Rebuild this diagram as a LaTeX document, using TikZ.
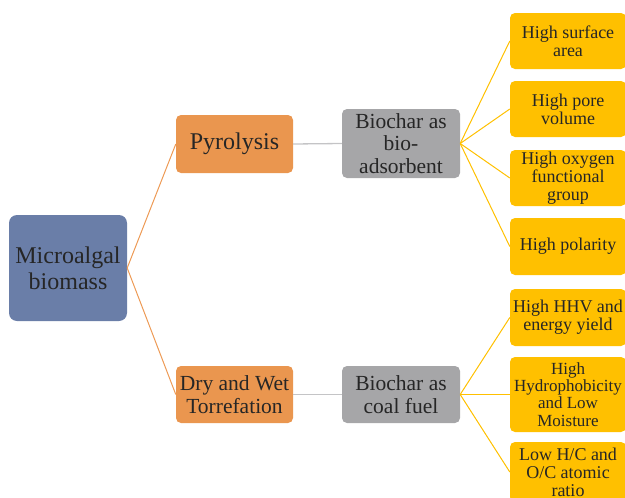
\documentclass[tikz,border=0pt]{standalone}
\usepackage{fontspec}
\setmainfont{Liberation Serif}
\definecolor{bluebox}{HTML}{6A7EA8}
\definecolor{orangebox}{HTML}{EA964F}
\definecolor{graybox}{HTML}{A6A6A8}
\definecolor{yellowbox}{HTML}{FFC000}
\definecolor{orangeline}{HTML}{ED9A55}
\definecolor{grayline}{HTML}{C4C4C6}
\definecolor{txt}{HTML}{262626}
\begin{document}
\begin{tikzpicture}[x=1pt,y=-1pt,
  box/.style={rounded corners=5pt, inner sep=0pt, align=center, text=txt},
  bigtxt/.style={font=\fontsize{24}{26}\selectfont},
  midtxt/.style={font=\fontsize{21.5}{22.5}\selectfont},
  smalltxt/.style={font=\fontsize{18}{18}\selectfont},
  oline/.style={draw=orangeline, line width=1pt},
  gline/.style={draw=grayline, line width=1.3pt},
  yline/.style={draw=yellowbox, line width=1pt}]
\useasboundingbox (0,0) rectangle (625,498);
\begin{scope}
\clip (0,0) rectangle (625,498);
% root
\node[box, rounded corners=8pt, fill=bluebox, minimum width=118pt, minimum height=106pt, bigtxt] (root) at (68,268) {Microalgal\\biomass};
% level 1
\node[box, fill=orangebox, minimum width=117pt, minimum height=58pt, font=\fontsize{24}{26}\selectfont] (pyro) at (234.5,144) {Pyrolysis};
\node[box, fill=orangebox, minimum width=117pt, minimum height=57pt, midtxt] (torr) at (234.5,394.5) {Dry and Wet\\Torrefation};
% level 2
\node[box, fill=graybox, minimum width=118pt, minimum height=69pt, midtxt] (bio) at (401,143.5) {Biochar as\\bio-\\adsorbent};
\node[box, fill=graybox, minimum width=118pt, minimum height=57pt, midtxt] (coal) at (401,394.5) {Biochar as\\coal fuel};
% level 3
\node[box, fill=yellowbox, minimum width=116pt, minimum height=56pt, smalltxt] (y1) at (568,41) {High surface\\area};
\node[box, fill=yellowbox, minimum width=116pt, minimum height=56pt, smalltxt] (y2) at (568,109) {High pore\\volume};
\node[box, fill=yellowbox, minimum width=116pt, minimum height=56pt, smalltxt] (y3) at (568,178) {High oxygen\\functional\\group};
\node[box, fill=yellowbox, minimum width=116pt, minimum height=57pt, smalltxt] (y4) at (568,246.5) {High polarity};
\node[box, fill=yellowbox, minimum width=116pt, minimum height=57pt, smalltxt] (y5) at (568,317.5) {High HHV and\\energy yield};
\node[box, fill=yellowbox, minimum width=116pt, minimum height=75pt, font=\fontsize{17}{17.3}\selectfont] (y6) at (568,394.5) {High\\Hydrophobicity\\and Low\\Moisture};
\node[box, fill=yellowbox, minimum width=116pt, minimum height=60pt, smalltxt] (y7) at (568,472) {Low H/C and\\O/C atomic\\ratio};
% connectors
\draw[oline] (root.east) -- (pyro.west);
\draw[oline] (root.east) -- (torr.west);
\draw[gline] (pyro.east) -- (bio.west);
\draw[gline] (torr.east) -- (coal.west);
\foreach \t in {y1,y2,y3,y4} \draw[yline] (bio.east) -- (\t.west);
\foreach \t in {y5,y6,y7} \draw[yline] (coal.east) -- (\t.west);
\end{scope}
\end{tikzpicture}
\end{document}
